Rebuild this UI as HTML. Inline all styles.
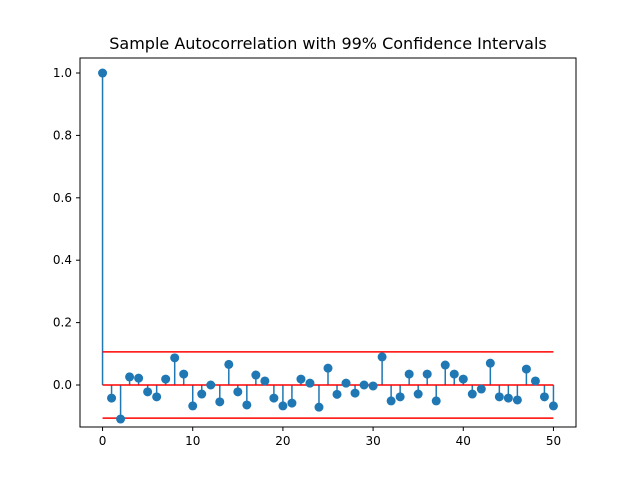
<!DOCTYPE html>
<html><head><meta charset="utf-8"><style>
body{margin:0;background:#fff;}
svg{display:block;font-family:"DejaVu Sans","Liberation Sans",sans-serif;}
</style></head><body>
<svg id="chart" width="640" height="480">
<rect width="640" height="480" fill="#fff"/>
<text x="328" y="49" text-anchor="middle" font-size="16">Sample Autocorrelation with 99% Confidence Intervals</text>
<g id="grid"></g>
<g id="marks"></g>
<rect x="80" y="58" width="496" height="369" fill="none" stroke="#000" stroke-width="1"/>
</svg>
<script>
const lags = Array.from({length:51},(_,i)=>i);
const acf = [1.0,-0.042,-0.109,0.026,0.022,-0.022,-0.038,0.019,0.087,0.035,-0.067,-0.029,0.0,-0.054,0.066,-0.022,-0.064,0.032,0.013,-0.042,-0.067,-0.058,0.019,0.006,-0.071,0.054,-0.03,0.006,-0.026,0.0,-0.003,0.09,-0.051,-0.038,0.035,-0.029,0.035,-0.051,0.064,0.035,0.019,-0.029,-0.013,0.07,-0.038,-0.042,-0.048,0.051,0.013,-0.038,-0.067];
const ci = [0.106];
const xTicks = [0,10,20,30,40,50];
const yTicks = [0.0,0.2,0.4,0.6,0.8,1.0];
const NS="http://www.w3.org/2000/svg";
const L=80,R=576,T=58,B=427;
const xMin=-2.5,xMax=52.5,yMin=-0.1346,yMax=1.0481;
const sx=v=>L+(v-xMin)/(xMax-xMin)*(R-L);
const sy=v=>B-(v-yMin)/(yMax-yMin)*(B-T);
function mk(tag,attrs,parent){const e=document.createElementNS(NS,tag);for(const k in attrs)e.setAttribute(k,attrs[k]);parent.appendChild(e);return e;}
const g=document.getElementById('grid'),m=document.getElementById('marks');
xTicks.forEach(t=>{
 const ln=mk('line',{x1:sx(t),x2:sx(t),y1:B,y2:B+4,stroke:'#000'},g);
 
 
 const tx=mk('text',{x:sx(t),y:B+18,'text-anchor':'middle','font-size':'12'},g);
 tx.textContent=t;
 
 
});
yTicks.forEach(t=>{
 const ln=mk('line',{x1:L-4,x2:L,y1:sy(t),y2:sy(t),stroke:'#000'},g);
 
 
 const tx=mk('text',{x:L-8,y:sy(t)+4,'text-anchor':'end','font-size':'12'},g);
 tx.textContent=t.toFixed(1);
 
 
});
lags.forEach((l,i)=>{
 const s=mk('line',{x1:sx(l),x2:sx(l),y1:sy(0),y2:sy(acf[i]),stroke:'#1f77b4','stroke-width':1.5},m);
 
 
});
[0,ci[0],-ci[0]].forEach(v=>{
 const ln=mk('line',{x1:sx(lags[0]),x2:sx(lags[lags.length-1]),y1:sy(v),y2:sy(v),stroke:'#ff0000','stroke-width':1.5},m);
 
 
});
lags.forEach((l,i)=>{
 const c=mk('circle',{cx:sx(l),cy:sy(acf[i]),r:4.5,fill:'#1f77b4'},m);
 
 
});
</script>
</body></html>
